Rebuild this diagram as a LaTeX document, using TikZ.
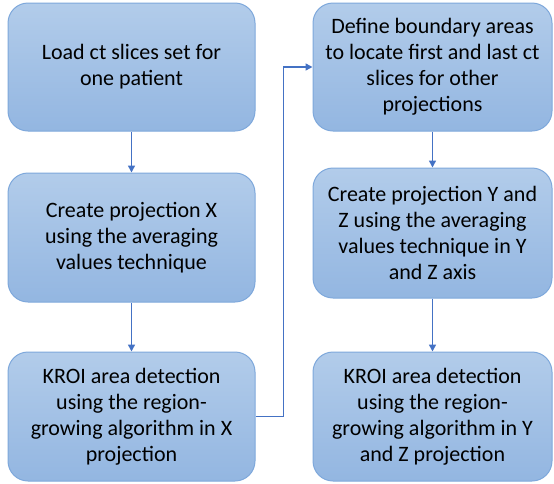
\documentclass[tikz,border=0pt]{standalone}
\usepackage{fontspec}
\setmainfont{Carlito}
\usetikzlibrary{arrows.meta}
\definecolor{boxtop}{HTML}{B2CCEA}
\definecolor{boxbot}{HTML}{93B6E1}
\definecolor{boxedge}{HTML}{7EA8DB}
\definecolor{arrowc}{HTML}{4472C4}
\begin{document}
\begin{tikzpicture}[x=1pt,y=-1pt,
  box/.style={draw=boxedge, line width=1pt, rounded corners=20pt,
    top color=boxtop, bottom color=boxbot, align=center,
    font=\fontsize{22}{26}\selectfont, text=black, inner sep=0pt},
  conn/.style={draw=arrowc, line width=1.5pt, -{Triangle[length=7pt,width=7pt]}}]
\useasboundingbox (0,0) rectangle (554,483);
\node[box, minimum width=247pt, minimum height=128pt] (l1) at (131.5,67) {Load ct slices set for\\one patient};
\node[box, minimum width=247pt, minimum height=129pt] (l2) at (131.5,237.5) {Create projection X\\using the averaging\\values technique};
\node[box, minimum width=247pt, minimum height=129pt] (l3) at (131.5,416.5) {KROI area detection\\using the region-\\growing algorithm in X\\projection};
\node[box, minimum width=239pt, minimum height=128pt] (r1) at (432.5,67) {Define boundary areas\\to locate first and last ct\\slices for other\\projections};
\node[box, minimum width=239pt, minimum height=130pt] (r2) at (432.5,233) {Create projection Y and\\Z using the averaging\\values technique in Y\\and Z axis};
\node[box, minimum width=239pt, minimum height=129pt] (r3) at (432.5,416.5) {KROI area detection\\using the region-\\growing algorithm in Y\\and Z projection};
\draw[conn] (l1) -- (l2);
\draw[conn] (l2) -- (l3);
\draw[conn] (r1) -- (r2);
\draw[conn] (r2) -- (r3);
\draw[conn] (l3.east) -- ++(28,0) |- (r1.west);
\end{tikzpicture}
\end{document}
